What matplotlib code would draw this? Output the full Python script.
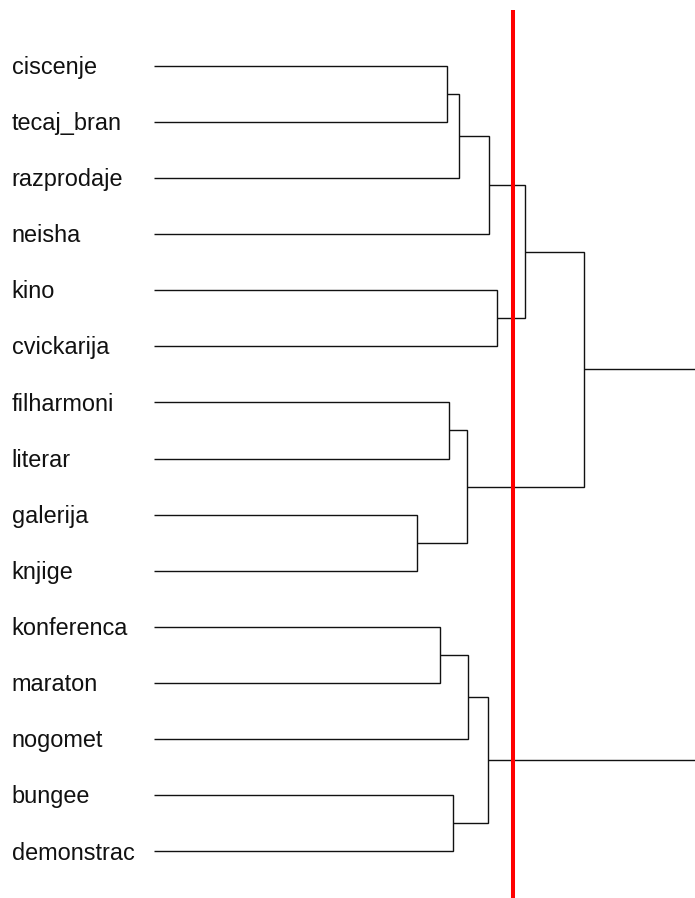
import matplotlib
matplotlib.use("Agg")
import matplotlib.pyplot as plt

# Leaf labels in display order (top to bottom)
labels = ["ciscenje", "tecaj_bran", "razprodaje", "neisha", "kino", "cvickarija",
          "filharmoni", "literar", "galerija", "knjige", "konferenca", "maraton",
          "nogomet", "bungee", "demonstrac"]

# Agglomeration steps: ids 0..14 are leaves, each merge creates id 15, 16, ...
merge_a = [8, 10, 0, 6, 13, 17, 18, 16, 22, 20, 4, 24, 26, 27]
merge_b = [9, 11, 1, 7, 14, 2, 15, 12, 19, 3, 5, 25, 21, 23]
merge_h = [21.9, 23.8, 24.4, 24.6, 24.9, 25.4, 26.1, 26.2, 27.8, 27.9, 28.6, 30.9, 35.8, 48.0]

cut_height = 29.9

fig = plt.figure(figsize=(6.95, 8.98), dpi=100)
ax = fig.add_axes([0, 0, 1, 1])

n = len(labels)
pos_y = {i: float(i) for i in range(n)}
pos_x = {i: 0.0 for i in range(n)}

line_kw = dict(color="#111111", lw=1.0, solid_capstyle="butt", solid_joinstyle="miter")
for k, (a, b, h) in enumerate(zip(merge_a, merge_b, merge_h)):
    node = n + k
    ya, yb = pos_y[a], pos_y[b]
    ax.plot([pos_x[a], h, h, pos_x[b]], [ya, ya, yb, yb], **line_kw)
    pos_y[node] = (ya + yb) / 2
    pos_x[node] = h

for i, name in enumerate(labels):
    ax.text(-11.85, i + 0.145, name, ha="left", va="baseline",
            fontsize=16.9, family=["Liberation Sans", "DejaVu Sans"], color="#111111")

ax.plot([cut_height, cut_height], [-0.993, 15.5], color="#ff0000", lw=2.9,
        solid_capstyle="butt")

ax.set_xlim(-154 / 12, 541 / 12)
ax.set_ylim((898 - 65.7) / 56.12, -65.7 / 56.12)
ax.axis("off")

fig.savefig("out.png", dpi=100, facecolor="white")
